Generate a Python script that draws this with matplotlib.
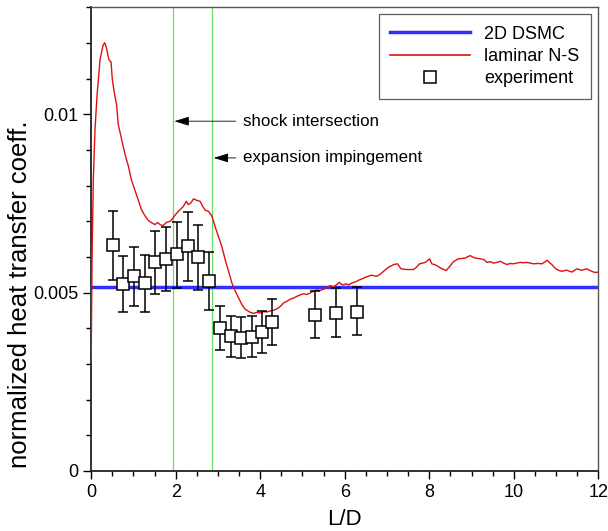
import matplotlib
matplotlib.use("Agg")
import matplotlib.pyplot as plt
from matplotlib.lines import Line2D
from matplotlib.ticker import MultipleLocator

plt.rcParams['font.family'] = ['Liberation Sans', 'DejaVu Sans']

# laminar Navier-Stokes heat transfer distribution
ns_x = [0.00, 0.02, 0.05, 0.09, 0.14, 0.21, 0.28, 0.32, 0.36, 0.42, 0.47, 0.50,
        0.56, 0.60, 0.64, 0.72, 0.80, 0.88, 0.95, 1.03, 1.11, 1.19, 1.27, 1.35,
        1.43, 1.51, 1.57, 1.63, 1.70, 1.78, 1.86, 1.91, 1.96, 2.03, 2.12, 2.18,
        2.25, 2.30, 2.36, 2.42, 2.50, 2.58, 2.64, 2.70, 2.78, 2.86, 2.93, 3.01,
        3.09, 3.17, 3.25, 3.33, 3.41, 3.49, 3.57, 3.64, 3.76, 3.84, 3.92, 4.00,
        4.08, 4.16, 4.24, 4.32, 4.40, 4.48, 4.55, 4.63, 4.71, 4.79, 4.87, 4.95,
        5.02, 5.10, 5.18, 5.26, 5.34, 5.42, 5.50, 5.58, 5.66, 5.72, 5.78, 5.87,
        5.92, 5.97, 6.03, 6.09, 6.15, 6.21, 6.27, 6.33, 6.39, 6.45, 6.50, 6.56,
        6.62, 6.68, 6.76, 6.84, 6.92, 6.98, 7.04, 7.10, 7.16, 7.25, 7.29, 7.33,
        7.40, 7.47, 7.55, 7.63, 7.70, 7.77, 7.84, 7.91, 7.96, 8.01, 8.06, 8.12,
        8.18, 8.24, 8.30, 8.35, 8.40, 8.45, 8.50, 8.58, 8.63, 8.69, 8.77, 8.85,
        8.91, 8.97, 9.03, 9.09, 9.15, 9.21, 9.29, 9.37, 9.45, 9.52, 9.60, 9.68,
        9.76, 9.84, 9.92, 9.99, 10.07, 10.15, 10.23, 10.31, 10.39, 10.47, 10.57,
        10.67, 10.73, 10.79, 10.85, 10.90, 10.96, 11.02, 11.08, 11.14, 11.20,
        11.26, 11.32, 11.38, 11.44, 11.50, 11.55, 11.61, 11.67, 11.73, 11.79,
        11.85, 11.91, 11.97, 12.00]
ns_y = [0.00312, 0.00600, 0.00817, 0.00958, 0.01056, 0.01154, 0.01194, 0.01201,
        0.01187, 0.01153, 0.01147, 0.01098, 0.01051, 0.01028, 0.00972, 0.00930,
        0.00888, 0.00855, 0.00817, 0.00789, 0.00761, 0.00733, 0.00716, 0.00703,
        0.00696, 0.00691, 0.00697, 0.00691, 0.00688, 0.00697, 0.00700, 0.00705,
        0.00714, 0.00724, 0.00735, 0.00742, 0.00756, 0.00747, 0.00752, 0.00763,
        0.00759, 0.00756, 0.00742, 0.00731, 0.00728, 0.00714, 0.00686, 0.00658,
        0.00630, 0.00593, 0.00560, 0.00527, 0.00504, 0.00485, 0.00466, 0.00454,
        0.00445, 0.00442, 0.00445, 0.00443, 0.00447, 0.00446, 0.00449, 0.00451,
        0.00455, 0.00462, 0.00471, 0.00476, 0.00482, 0.00485, 0.00490, 0.00494,
        0.00497, 0.00495, 0.00499, 0.00504, 0.00508, 0.00506, 0.00510, 0.00515,
        0.00520, 0.00516, 0.00520, 0.00529, 0.00524, 0.00522, 0.00525, 0.00522,
        0.00526, 0.00529, 0.00531, 0.00535, 0.00538, 0.00541, 0.00544, 0.00546,
        0.00549, 0.00548, 0.00546, 0.00552, 0.00560, 0.00566, 0.00572, 0.00575,
        0.00579, 0.00581, 0.00574, 0.00567, 0.00566, 0.00565, 0.00565, 0.00565,
        0.00572, 0.00581, 0.00583, 0.00585, 0.00590, 0.00595, 0.00581, 0.00579,
        0.00576, 0.00571, 0.00567, 0.00565, 0.00562, 0.00569, 0.00576, 0.00588,
        0.00591, 0.00595, 0.00596, 0.00597, 0.00601, 0.00604, 0.00600, 0.00597,
        0.00596, 0.00595, 0.00593, 0.00585, 0.00587, 0.00583, 0.00585, 0.00588,
        0.00583, 0.00579, 0.00582, 0.00581, 0.00583, 0.00585, 0.00584, 0.00585,
        0.00583, 0.00581, 0.00582, 0.00581, 0.00586, 0.00591, 0.00584, 0.00579,
        0.00571, 0.00565, 0.00562, 0.00560, 0.00562, 0.00563, 0.00560, 0.00558,
        0.00563, 0.00567, 0.00565, 0.00563, 0.00565, 0.00567, 0.00563, 0.00560,
        0.00557, 0.00557, 0.00558]

# 2D DSMC level
dsmc_x = [0.0, 12.0]
dsmc_y = [0.00515, 0.00515]

# experimental data with asymmetric error bars
exp_x = [0.51, 0.75, 1.02, 1.28, 1.52, 1.77, 2.02, 2.28, 2.53, 2.78,
         3.05, 3.30, 3.55, 3.80, 4.04, 4.29, 5.30, 5.79, 6.30]
exp_y = [0.00633, 0.00524, 0.00546, 0.00527, 0.00585, 0.00595, 0.00609,
         0.00630, 0.00600, 0.00532, 0.00401, 0.00379, 0.00373, 0.00377,
         0.00391, 0.00419, 0.00438, 0.00443, 0.00447]
exp_hi = [0.00730, 0.00602, 0.00627, 0.00607, 0.00672, 0.00684, 0.00699,
          0.00726, 0.00689, 0.00614, 0.00462, 0.00436, 0.00432, 0.00436,
          0.00450, 0.00482, 0.00506, 0.00513, 0.00516]
exp_lo = [0.00537, 0.00445, 0.00462, 0.00447, 0.00496, 0.00506, 0.00513,
          0.00534, 0.00508, 0.00452, 0.00340, 0.00321, 0.00317, 0.00321,
          0.00332, 0.00354, 0.00374, 0.00377, 0.00380]

# flow features along the surface
shock_x = 1.93
expansion_x = 2.87

fig = plt.figure(figsize=(6.08, 5.31), dpi=100)
ax = fig.add_axes([0.150, 0.113, 0.834, 0.873])

ax.axvline(shock_x, color='#66dd66', lw=0.9, zorder=1)
ax.axvline(expansion_x, color='#66dd66', lw=0.9, zorder=1)

ax.plot(dsmc_x, dsmc_y, color='#2f2fff', lw=2.5, zorder=2)
ax.plot(ns_x, ns_y, color='#dd1111', lw=1.0, zorder=3)

err_lo = [y - lo for y, lo in zip(exp_y, exp_lo)]
err_hi = [hi - y for y, hi in zip(exp_y, exp_hi)]
ax.errorbar(exp_x, exp_y, yerr=[err_lo, err_hi], fmt='s', ms=8.5,
            mfc='white', mec='black', mew=1.1, ecolor='black',
            elinewidth=1.1, capsize=3.5, capthick=1.1, zorder=4)

arrow_style = dict(arrowstyle='-|>,head_length=0.9,head_width=0.28',
                   color='black', lw=0.6, shrinkA=0, shrinkB=0)
ax.annotate('', xy=(1.97, 0.00981), xytext=(3.42, 0.00981), arrowprops=arrow_style)
ax.text(3.6, 0.00981, 'shock intersection', fontsize=12.2, va='center', ha='left')
ax.annotate('', xy=(2.90, 0.00878), xytext=(3.42, 0.00878), arrowprops=arrow_style)
ax.text(3.6, 0.00878, 'expansion impingement', fontsize=12.2, va='center', ha='left')

ax.set_xlim(0, 12)
ax.set_ylim(0, 0.013)
ax.xaxis.set_major_locator(MultipleLocator(2))
ax.xaxis.set_minor_locator(MultipleLocator(0.5))
ax.yaxis.set_minor_locator(MultipleLocator(0.001))
ax.set_yticks([0, 0.005, 0.01])
ax.set_yticklabels(['0', '0.005', '0.01'])
ax.tick_params(which='major', length=6, width=1.0, labelsize=13, direction='out')
ax.tick_params(which='minor', length=3.5, width=1.0, direction='out')

for side in ('left', 'bottom'):
    ax.spines[side].set_color('#222222')
    ax.spines[side].set_linewidth(1.3)
for side in ('top', 'right'):
    ax.spines[side].set_color('#555555')
    ax.spines[side].set_linewidth(1.0)

ax.set_xlabel('L/D', fontsize=16, labelpad=5.5)
fig.text(20 / 608, 0.446, 'normalized heat transfer coeff.', fontsize=18.5,
         rotation=90, ha='center', va='center')

handles = [
    Line2D([], [], color='#2f2fff', lw=2.5),
    Line2D([], [], color='#dd1111', lw=1.2),
    Line2D([], [], ls='none', marker='s', ms=8.5, mfc='white', mec='black', mew=1.1),
]
leg = ax.legend(handles, ['2D DSMC', 'laminar N-S', 'experiment'],
                loc='upper right', bbox_to_anchor=(0.986, 0.986),
                fontsize=13, frameon=True, fancybox=False, edgecolor='#333333',
                handlelength=4.4, handletextpad=0.8, labelspacing=0.3,
                borderpad=0.65, borderaxespad=0)
leg.get_frame().set_linewidth(0.9)

fig.savefig('out.png', dpi=100)
